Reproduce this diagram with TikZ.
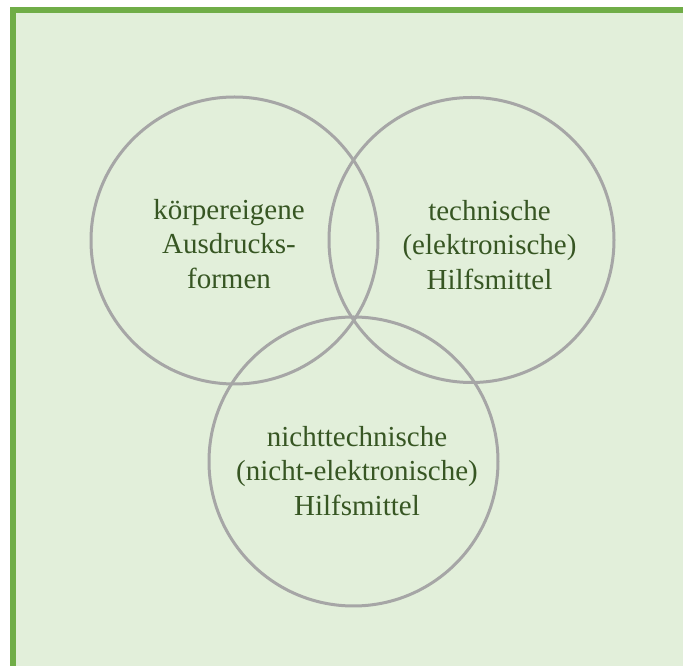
\documentclass[tikz,border=0pt]{standalone}
\usepackage{fontspec}
\setmainfont{Liberation Serif}
\definecolor{rahmen}{HTML}{70AD47}
\definecolor{flaeche}{HTML}{E2EFDA}
\definecolor{kreisgrau}{HTML}{A6A6A6}
\definecolor{schrift}{HTML}{375623}
\begin{document}
\begin{tikzpicture}[x=0.75pt,y=-0.75pt,
	kreis/.style={circle,draw=kreisgrau,line width=2.25pt,inner sep=0pt,minimum size=#1},
	beschriftung/.style={align=center,text=schrift,inner sep=0pt,
		font=\fontsize{21.75pt}{25.9pt}\selectfont},
	]
	\useasboundingbox (0,0) rectangle (683,666);
	\fill[flaeche] (13,10.5) rectangle (683,666);
	\draw[rahmen,line width=4.5pt] (13,666) -- (13,10.5) -- (683,10.5);
	% drei Kreise
	\node[kreis=215.25pt] at (234.5,240.5) (links) {};
	\node[kreis=213.75pt] at (471.5,240) (rechts) {};
	\node[kreis=216.75pt] at (353.5,461.5) (unten) {};
	% Texte
	\node[beschriftung] at (229,244) (t1) {körpereigene\\Ausdrucks-\\formen};
	\node[beschriftung] at (489.5,245) (t2) {technische\\(elektronische)\\Hilfsmittel};
	\node[beschriftung] at (357,471) (t3) {nichttechnische\\(nicht-elektronische)\\Hilfsmittel};
\end{tikzpicture}
\end{document}
